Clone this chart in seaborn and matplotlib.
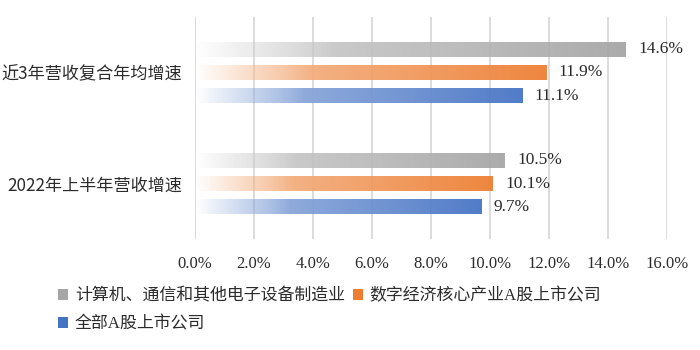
import numpy as np
import pandas as pd
import matplotlib
matplotlib.use("Agg")
import matplotlib.pyplot as plt
import matplotlib.colors as mcolors
from matplotlib.patches import Rectangle
from matplotlib.ticker import FuncFormatter, MultipleLocator
import seaborn as sns

# ---- data ----
categories = ["近3年营收复合年均增速", "2022年上半年营收增速"]
series = ["计算机、通信和其他电子设备制造业", "数字经济核心产业A股上市公司", "全部A股上市公司"]
values_electronics = [14.6, 10.5]
values_digital = [11.9, 10.1]
values_all_a = [11.1, 9.7]
colors = ["#A5A5A5", "#ED7D31", "#4472C4"]

df = pd.DataFrame({
    "category": categories * 3,
    "series": [series[0]] * 2 + [series[1]] * 2 + [series[2]] * 2,
    "value": values_electronics + values_digital + values_all_a,
})

sns.set_style("white")
plt.rcParams["font.family"] = ["Liberation Serif", "Noto Sans CJK SC", "DejaVu Sans"]
CJK = ["Noto Sans CJK SC", "DejaVu Sans"]
TEXT = "#2b2b2b"

fig = plt.figure(figsize=(7, 3.5), dpi=100)
ax = fig.add_axes([195 / 700, 1 - 239 / 350, 472 / 700, 222 / 350])

sns.barplot(data=df, y="category", x="value", hue="series", hue_order=series,
            palette=colors, orient="h", width=0.63, gap=0.36, ax=ax,
            legend=False, zorder=3)


def gradient_rgba(color, n=256):
    base = np.array(mcolors.to_rgb(color))
    light = base + (1 - base) * 0.4
    t = np.linspace(0, 1, n)
    # colour runs from a pale tint to the full colour, alpha fades in on the left
    mix = np.clip((t - 0.25) / 0.75, 0, 1)[:, None]
    rgb = light * (1 - mix) + base * mix
    alpha = np.clip(t / 0.33, 0, 1) * 0.93
    return np.dstack([rgb[None, :, :], alpha[None, :, None]])


for container, col in zip(ax.containers, colors):
    grad = gradient_rgba(col)
    for bar in container:
        x0, y0 = bar.get_x(), bar.get_y()
        w, h = bar.get_width(), bar.get_height()
        bar.set_facecolor("none")
        bar.set_edgecolor("none")
        im = ax.imshow(grad, extent=[x0, x0 + w, y0 + h, y0], aspect="auto",
                       interpolation="bilinear", zorder=3)
        clip = Rectangle((x0, y0), w, h, transform=ax.transData)
        im.set_clip_path(clip)
    ax.bar_label(container, labels=[f"{v:.1f}%" for v in container.datavalues],
                 padding=9, fontsize=12.5, color=TEXT,
                 family=["Liberation Serif"])

ax.set_xlim(0, 16)
ax.set_ylim(1.5, -0.5)
ax.xaxis.set_major_locator(MultipleLocator(2))
ax.xaxis.set_major_formatter(FuncFormatter(lambda v, p: f"{v:.1f}%"))
ax.grid(axis="x", color="#D9D9D9", linewidth=1.3, zorder=0)
ax.grid(axis="y", visible=False)
ax.set_axisbelow(True)
for s in ax.spines.values():
    s.set_visible(False)
ax.set_xlabel("")
ax.set_ylabel("")
ax.tick_params(axis="x", length=0, pad=12, labelsize=12, labelcolor=TEXT)
ax.tick_params(axis="y", length=0, pad=9, labelsize=12.3, labelcolor=TEXT)
for lab in ax.get_yticklabels():
    lab.set_family(CJK)

# legend: squares with the series colours, laid out in two columns
handles = [Rectangle((0, 0), 1, 1, facecolor=c, edgecolor="none") for c in colors]
order = [0, 2, 1]
leg = fig.legend([handles[i] for i in order], [series[i] for i in order],
                 loc="upper left", bbox_to_anchor=(58 / 700, 1 - 288 / 350),
                 ncol=2, frameon=False, handlelength=0.6,
                 handleheight=0.6, handletextpad=0.4, columnspacing=0.45,
                 labelspacing=0.72, borderpad=0, borderaxespad=0,
                 prop={"family": ["Liberation Serif", "Noto Sans CJK SC"], "size": 12.2})
for t in leg.get_texts():
    t.set_color(TEXT)

fig.savefig("out.png", dpi=100, facecolor="white")
